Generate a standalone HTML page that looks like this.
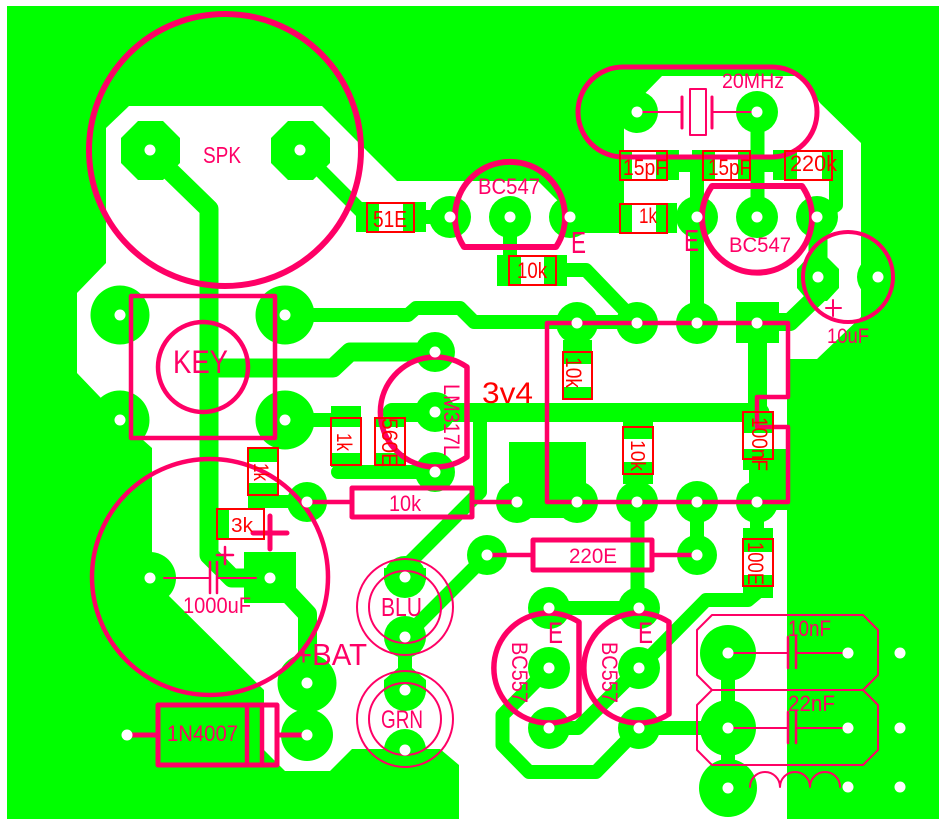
<!DOCTYPE html>
<html>
<head>
<meta charset="utf-8">
<style>
html,body{margin:0;padding:0;background:#fff}
svg{display:block}
text{font-family:"Liberation Sans",sans-serif}
.g{fill:#00ff00;stroke:none}
.t{fill:none;stroke:#00ff00;stroke-linejoin:round;stroke-linecap:round}
.p{fill:none;stroke:#ff0066;stroke-linejoin:round;stroke-linecap:round}
.r{fill:none;stroke:#ff0000;stroke-width:2}
.tp{fill:#ff0066}
.tr{fill:#ff0000}
</style>
</head>
<body>
<svg width="945" height="827" viewBox="0 0 945 827" xmlns="http://www.w3.org/2000/svg">
<rect width="945" height="827" fill="#fff"/>
<rect x="7" y="6" width="932" height="813" fill="#00ff00"/>
<polygon fill="#fff" points="129,106 322,106 397,181 538,181 560,203 567,233 624,233 624,115 662,76 800,76 820,103 861,143 861,317 817,359 787,359 787,830 459,830 459,765 440,749 352,749 330,771 285,771 264,750 264,690 170,597 152,580 152,448 143,440 100,397 77,373 77,293 106,263 106,128"/>

<!-- copper traces -->
<g class="t" stroke-width="19">
<path d="M171,172 L209,209 L209,555 L232,578 L265,578"/>
<path d="M209,368 L333,368 L350,352 L435,352"/>
<path d="M392,412.5 L760,412.5"/>
<path d="M757.500,343 L757.500,412"/>
<path d="M285,590 L307.500,614 L307.500,683"/>
<path d="M818,217 L818,262"/>
</g>
<g class="t" stroke-width="14">
<path d="M300,150 L372,222"/>
<path d="M426,217 L450,217"/>
<path d="M510,217 L510,256"/>
<path d="M565,270 L586,270 L637,323"/>
<path d="M285,315 L408,315 L416,308 L460,308 L474,322 L637,322"/>
<path d="M285,420 L335,420"/>
<path d="M338,472 L435,472"/>
<path d="M480,415 L480,492 L405,567"/>
<path d="M487,555 L405,637"/>
<path d="M405,637 L405,690"/>
<path d="M679,165 L692,165"/>
<path d="M750,165 L773,165"/>
<path d="M697,160 L697,323"/>
<path d="M757.500,112 L757.500,217"/>
<path d="M836,175 L836,205 L818,217"/>
<path d="M757,322 L790,322 L818,295" stroke-width="18"/>
<path d="M697,502 L697,555"/>
<path d="M637.500,502 L637.500,608"/>
<path d="M549,608 L639,608"/>
<path d="M757,502 L757,530"/>
<path d="M639,668 L706,600 L748,600 L760,590"/>
<path d="M549,728 L578,728 L639,668"/>
<path d="M549,668 L502.500,715 L502.500,745 L529,772 L596,772 L639,728"/>
<path d="M639,728 L728,728"/>
<path d="M728,653 L728,788"/>
</g>

<!-- copper pads / SMD lands -->
<g class="g">
<polygon points="138,121 163,121 180,138 180,163 163,180 138,180 121,163 121,138"/>
<polygon points="288,121 313,121 330,138 330,163 313,180 288,180 271,163 271,138"/>
<circle cx="450" cy="217" r="21"/><circle cx="510" cy="217" r="21"/><circle cx="570" cy="217" r="21"/>
<circle cx="637" cy="112" r="21"/><circle cx="757" cy="112" r="21"/>
<circle cx="697" cy="217" r="21"/><circle cx="757" cy="217" r="21"/><circle cx="817" cy="217" r="21"/>
<polygon points="827,257 839,269 839,288 827,301 808,301 797,288 797,269 808,257"/>
<circle cx="878" cy="277" r="21"/>
<circle cx="577" cy="323" r="21"/><circle cx="637" cy="323" r="21"/><circle cx="697" cy="323" r="21"/>
<rect x="736" y="302" width="43" height="41"/>
<circle cx="120" cy="315" r="29.500"/><circle cx="285" cy="315" r="29.500"/>
<circle cx="120" cy="420" r="29.500"/><circle cx="285" cy="420" r="29.500"/>
<circle cx="435" cy="352" r="20"/><circle cx="435" cy="412" r="20"/><circle cx="435" cy="472" r="20"/>
<circle cx="307" cy="502" r="20"/>
<circle cx="517" cy="502" r="21"/><circle cx="577" cy="502" r="21"/><circle cx="637" cy="502" r="21"/><circle cx="697" cy="502" r="21"/><circle cx="757" cy="502" r="21"/>
<rect x="509" y="442" width="77" height="62"/><rect x="517" y="500" width="60" height="18"/>
<circle cx="487" cy="555" r="20"/><circle cx="697" cy="555" r="20"/>
<circle cx="150" cy="578" r="26"/>
<circle cx="270" cy="578" r="22"/>
<rect x="244" y="552" width="52" height="51"/>
<circle cx="405" cy="577" r="21"/><rect x="384" y="568" width="42" height="12"/>
<circle cx="405" cy="637" r="21"/><circle cx="405" cy="690" r="21"/>
<polygon points="398,668 412,668 426,680 384,680"/><rect x="384" y="680" width="42" height="12"/>
<circle cx="405" cy="750" r="21"/>
<circle cx="307" cy="683" r="29.500"/><circle cx="307" cy="735" r="26"/>
<circle cx="549" cy="608" r="21"/><circle cx="639" cy="608" r="21"/>
<circle cx="549" cy="668" r="21"/><circle cx="639" cy="668" r="21"/>
<circle cx="549" cy="728" r="21"/><circle cx="639" cy="728" r="21"/>
<circle cx="728" cy="653" r="28"/><circle cx="728" cy="728" r="28"/><circle cx="728" cy="788" r="29"/>
<!-- 51E -->
<rect x="356" y="202" width="23" height="30"/><rect x="403" y="202" width="23" height="30"/>
<!-- 10k h -->
<rect x="497" y="255" width="24" height="31"/><rect x="544" y="255" width="23" height="31"/>
<!-- 15pF -->
<rect x="620" y="150" width="12" height="30"/><rect x="656" y="150" width="23" height="30"/>
<rect x="692" y="150" width="23" height="30"/><rect x="738" y="150" width="12" height="30"/>
<!-- 220k -->
<rect x="773" y="150" width="24" height="30"/><rect x="822" y="150" width="21" height="30"/>
<!-- 1k -->
<rect x="620" y="203" width="12" height="30"/><rect x="656" y="203" width="21" height="30"/>
<!-- 10k v -->
<rect x="563" y="340" width="29" height="24"/><rect x="563" y="387" width="29" height="12"/>
<rect x="623" y="422" width="30" height="17"/><rect x="623" y="462" width="30" height="22"/>
<!-- 100nF -->
<rect x="743" y="412" width="29" height="21"/>
<rect x="743" y="449" width="44" height="21"/>
<rect x="749" y="449" width="38" height="61"/>
<!-- 100E -->
<rect x="743" y="528" width="30" height="24"/><rect x="743" y="575" width="30" height="23"/>
<!-- 1k / 560E near LM317 -->
<rect x="331" y="406" width="30" height="21"/><rect x="331" y="453" width="30" height="14"/>
<rect x="375" y="418" width="30" height="9"/><rect x="375" y="453" width="30" height="20"/>
<!-- 1k / 3k near cap -->
<rect x="248" y="448" width="30" height="14"/><rect x="248" y="483" width="30" height="25"/>
<rect x="248" y="495" width="42" height="13"/>
<rect x="217" y="509" width="12" height="30"/>
</g>

<!-- silkscreen pink -->
<g class="p">
<circle cx="225" cy="150" r="136" stroke-width="6"/>
<circle cx="210" cy="577" r="118" stroke-width="4.500"/>
<rect x="131" y="296" width="144" height="142" stroke-width="4.500"/>
<circle cx="203" cy="367" r="45" stroke-width="4.500"/>
<path d="M464,247 L556,247 A55,55 0 1 0 464,247 Z" stroke-width="6"/>
<path d="M712,186 L802,186 A55,55 0 1 1 712,186 Z" stroke-width="6"/>
<rect x="578" y="67" width="239" height="90" rx="45" ry="45" stroke-width="5"/>
<path d="M637,112 L682,112 M712,112 L757,112" stroke-width="2"/>
<path d="M682,97 L682,128 M712,97 L712,128" stroke-width="3"/>
<rect x="690" y="89" width="16" height="46" stroke-width="2"/>
<circle cx="848" cy="277" r="45" stroke-width="4"/>
<path d="M826,308 L841,308 M833,300 L833,316" stroke-width="2"/>
<path d="M547,502 L547,323 L788,323 L788,397 L757,397 L757,427 L788,427 L788,502 Z" stroke-width="4.500"/>
<path d="M467,367 L467,457 A55,55 0 1 1 467,367 Z" stroke-width="5.500"/>
<rect x="352" y="488" width="120" height="29" stroke-width="5"/>
<path d="M307,502 L352,502 M473,502 L517,502" stroke-width="4.500"/>
<rect x="533" y="540" width="119" height="30" stroke-width="5"/>
<path d="M487,555 L533,555 M652,555 L697,555" stroke-width="4.500"/>
<path d="M253,533 L287,533 M270,516 L270,549" stroke-width="5"/>
<path d="M217,555 L233,555 M225,547 L225,564" stroke-width="2.500"/>
<path d="M164,578 L210,578 M217,578 L256,578" stroke-width="2"/>
<path d="M210,562 L210,593 M217,562 L217,593" stroke-width="2.500"/>
<circle cx="405" cy="607" r="48" stroke-width="2"/><circle cx="405" cy="607" r="36" stroke-width="2"/>
<circle cx="405" cy="719" r="48" stroke-width="2"/><circle cx="405" cy="719" r="36" stroke-width="2"/>
<rect x="158" y="705" width="119" height="60" stroke-width="5"/>
<path d="M247,705 L247,765 M262,705 L262,765" stroke-width="4.500"/>
<path d="M127,735 L156,735 M279,735 L307,735" stroke-width="5"/>
<path d="M579,622 L579,714 A55,55 0 1 1 579,622 Z" stroke-width="5.500"/>
<path d="M669,622 L669,714 A55,55 0 1 1 669,622 Z" stroke-width="5.500"/>
<polygon points="712,615 863,615 878,630 878,675 863,690 712,690 697,675 697,630" stroke-width="2"/>
<polygon points="712,690 863,690 878,705 878,750 863,765 712,765 697,750 697,705" stroke-width="2"/>
<path d="M728,653 L788,653 M796,653 L848,653" stroke-width="2"/>
<path d="M788,637 L788,668 M796,637 L796,668" stroke-width="2.500"/>
<path d="M728,728 L788,728 M796,728 L848,728" stroke-width="2"/>
<path d="M788,712 L788,743 M796,712 L796,743" stroke-width="2.500"/>
<path d="M750,787 A15,15 0 0 1 780,787 A15,15 0 0 1 810,787 A15,15 0 0 1 840,787" stroke-width="2"/>
</g>

<!-- red boxes -->
<g class="r">
<rect x="367" y="203" width="47" height="29"/>
<rect x="509" y="256" width="47" height="29"/>
<rect x="620" y="151" width="47" height="29"/>
<rect x="703" y="151" width="47" height="29"/>
<rect x="785" y="151" width="47" height="29"/>
<rect x="620" y="204" width="47" height="29"/>
<rect x="563" y="352" width="29" height="47"/>
<rect x="331" y="418" width="30" height="47"/>
<rect x="375" y="418" width="30" height="47"/>
<rect x="248" y="448" width="30" height="47"/>
<rect x="217" y="509" width="47" height="30"/>
<rect x="623" y="427" width="30" height="47"/>
<rect x="743" y="412" width="30" height="47"/>
<rect x="743" y="539" width="30" height="47"/>
</g>

<!-- pink labels -->
<g class="tp">
<text x="203" y="163" font-size="23" textLength="38" lengthAdjust="spacingAndGlyphs">SPK</text>
<text x="173" y="373" font-size="32" textLength="55" lengthAdjust="spacingAndGlyphs">KEY</text>
<text x="478" y="194" font-size="22" textLength="62" lengthAdjust="spacingAndGlyphs">BC547</text>
<text x="571" y="253" font-size="31" textLength="15" lengthAdjust="spacingAndGlyphs">E</text>
<text x="684" y="251" font-size="31" textLength="15" lengthAdjust="spacingAndGlyphs">E</text>
<text x="729" y="252" font-size="21" textLength="62" lengthAdjust="spacingAndGlyphs">BC547</text>
<text x="722" y="88" font-size="21" textLength="62" lengthAdjust="spacingAndGlyphs">20MHz</text>
<text x="827" y="343" font-size="21" textLength="42" lengthAdjust="spacingAndGlyphs">10uF</text>
<text x="183" y="613" font-size="22" textLength="68" lengthAdjust="spacingAndGlyphs">1000uF</text>
<text x="295" y="665" font-size="31" textLength="72" lengthAdjust="spacingAndGlyphs">+BAT</text>
<text x="381" y="616" font-size="26" textLength="41" lengthAdjust="spacingAndGlyphs">BLU</text>
<text x="381" y="728" font-size="25" textLength="42" lengthAdjust="spacingAndGlyphs">GRN</text>
<text x="167" y="741" font-size="22" textLength="71" lengthAdjust="spacingAndGlyphs">1N4007</text>
<text x="389" y="511" font-size="22" textLength="32" lengthAdjust="spacingAndGlyphs">10k</text>
<text x="569" y="563" font-size="21" textLength="48" lengthAdjust="spacingAndGlyphs">220E</text>
<text x="548" y="643" font-size="30" textLength="15" lengthAdjust="spacingAndGlyphs">E</text>
<text x="638" y="643" font-size="30" textLength="15" lengthAdjust="spacingAndGlyphs">E</text>
<text x="788" y="636" font-size="22" textLength="43" lengthAdjust="spacingAndGlyphs">10nF</text>
<text x="788" y="711" font-size="22" textLength="47" lengthAdjust="spacingAndGlyphs">22nF</text>
<text transform="translate(444,384) rotate(90)" font-size="22" textLength="72" lengthAdjust="spacingAndGlyphs">LM317L</text>
<text transform="translate(512,642) rotate(90)" font-size="22" textLength="61" lengthAdjust="spacingAndGlyphs">BC557</text>
<text transform="translate(602,642) rotate(90)" font-size="22" textLength="61" lengthAdjust="spacingAndGlyphs">BC557</text>
</g>

<!-- red labels -->
<g class="tr">
<text x="373" y="227" font-size="23" textLength="34" lengthAdjust="spacingAndGlyphs">51E</text>
<text x="517" y="278" font-size="22" textLength="30" lengthAdjust="spacingAndGlyphs">10k</text>
<text x="623" y="175" font-size="22" textLength="44" lengthAdjust="spacingAndGlyphs">15pF</text>
<text x="708" y="175" font-size="22" textLength="43" lengthAdjust="spacingAndGlyphs">15pF</text>
<text x="790" y="171" font-size="22" textLength="47" lengthAdjust="spacingAndGlyphs">220k</text>
<text x="639" y="223" font-size="21" textLength="18" lengthAdjust="spacingAndGlyphs">1k</text>
<text x="482" y="403" font-size="30" textLength="51" lengthAdjust="spacingAndGlyphs">3v4</text>
<text x="231" y="532" font-size="20" textLength="22" lengthAdjust="spacingAndGlyphs">3k</text>
<text transform="translate(566,357) rotate(90)" font-size="22" textLength="31" lengthAdjust="spacingAndGlyphs">10k</text>
<text transform="translate(337,433) rotate(90)" font-size="21" textLength="18" lengthAdjust="spacingAndGlyphs">1k</text>
<text transform="translate(382,418) rotate(90)" font-size="22" textLength="49" lengthAdjust="spacingAndGlyphs">560E</text>
<text transform="translate(254,463) rotate(90)" font-size="21" textLength="18" lengthAdjust="spacingAndGlyphs">1k</text>
<text transform="translate(631,440) rotate(90)" font-size="20" textLength="31" lengthAdjust="spacingAndGlyphs">10k</text>
<text transform="translate(752,417) rotate(90)" font-size="22" textLength="54" lengthAdjust="spacingAndGlyphs">100nF</text>
<text transform="translate(748,542) rotate(90)" font-size="22" textLength="43" lengthAdjust="spacingAndGlyphs">100E</text>
</g>

<!-- drill holes -->
<g fill="#fff">
<circle cx="150" cy="150" r="5.500"/><circle cx="300" cy="150" r="5.500"/>
<circle cx="450" cy="217" r="5.500"/><circle cx="510" cy="217" r="5.500"/><circle cx="570" cy="217" r="5.500"/>
<circle cx="637" cy="112" r="5.500"/><circle cx="757" cy="112" r="5.500"/>
<circle cx="697" cy="217" r="5.500"/><circle cx="757" cy="217" r="5.500"/><circle cx="817" cy="217" r="5.500"/>
<circle cx="818" cy="277" r="5.500"/><circle cx="878" cy="277" r="5.500"/>
<circle cx="577" cy="323" r="5.500"/><circle cx="637" cy="323" r="5.500"/><circle cx="697" cy="323" r="5.500"/><circle cx="757" cy="323" r="5.500"/>
<circle cx="120" cy="315" r="5.500"/><circle cx="285" cy="315" r="5.500"/>
<circle cx="120" cy="420" r="5.500"/><circle cx="285" cy="420" r="5.500"/>
<circle cx="435" cy="352" r="5.500"/><circle cx="435" cy="412" r="5.500"/><circle cx="435" cy="472" r="5.500"/>
<circle cx="307" cy="502" r="5.500"/>
<circle cx="517" cy="502" r="5.500"/><circle cx="577" cy="502" r="5.500"/><circle cx="637" cy="502" r="5.500"/><circle cx="697" cy="502" r="5.500"/><circle cx="757" cy="502" r="5.500"/>
<circle cx="487" cy="555" r="5.500"/><circle cx="697" cy="555" r="5.500"/>
<circle cx="150" cy="578" r="5.500"/><circle cx="270" cy="578" r="5.500"/>
<circle cx="405" cy="577" r="5.500"/><circle cx="405" cy="637" r="5.500"/><circle cx="405" cy="690" r="5.500"/><circle cx="405" cy="750" r="5.500"/>
<circle cx="307" cy="683" r="5.500"/><circle cx="307" cy="735" r="5.500"/><circle cx="127" cy="735" r="5.500"/>
<circle cx="549" cy="608" r="5.500"/><circle cx="639" cy="608" r="5.500"/>
<circle cx="549" cy="668" r="5.500"/><circle cx="639" cy="668" r="5.500"/>
<circle cx="549" cy="728" r="5.500"/><circle cx="639" cy="728" r="5.500"/>
<circle cx="728" cy="653" r="5.500"/><circle cx="728" cy="728" r="5.500"/><circle cx="728" cy="788" r="5.500"/>
<circle cx="848" cy="653" r="5.500"/><circle cx="848" cy="728" r="5.500"/><circle cx="848" cy="787" r="5.500"/>
<circle cx="900" cy="653" r="5.500"/><circle cx="900" cy="728" r="5.500"/><circle cx="900" cy="787" r="5.500"/>
</g>
</svg>
</body>
</html>
